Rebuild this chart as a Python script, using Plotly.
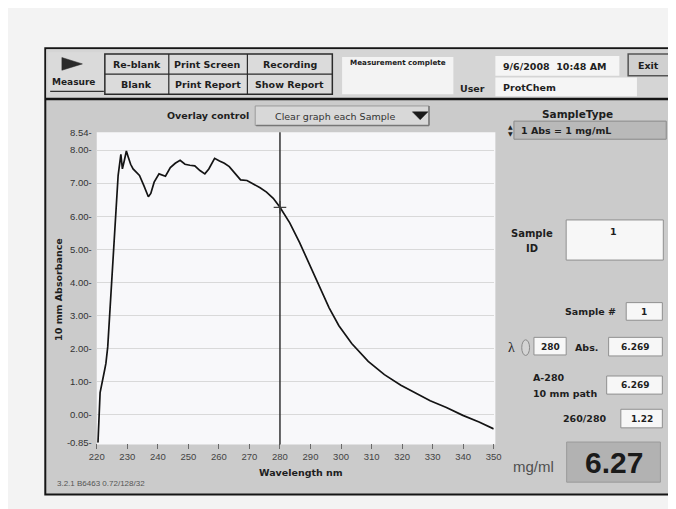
import plotly.graph_objects as go

# ---------------- data ----------------
wavelength_nm = [220.4, 221.1, 222.6, 223.0, 223.6, 224.9, 226.2, 227.0, 227.9, 228.4,
                 229.0, 229.7, 230.2, 231.1, 231.9, 232.9, 234.0, 235.4, 236.9, 237.7,
                 238.8, 240.4, 241.5, 242.5, 244.1, 245.7, 247.3, 248.9, 250.5, 252.1,
                 253.8, 255.4, 256.7, 258.6, 260.2, 261.8, 263.4, 265.5, 267.1, 269.2,
                 271.4, 273.5, 275.6, 277.8, 280.0, 283.2, 286.4, 289.6, 292.9, 296.1,
                 299.3, 303.5, 308.9, 314.2, 319.6, 323.8, 329.2, 334.5, 339.9, 345.2, 350.0]
absorbance = [-0.85, 0.67, 1.36, 1.55, 2.05, 4.02, 6.19, 7.23, 7.87, 7.43,
              7.67, 7.97, 7.82, 7.57, 7.43, 7.33, 7.23, 6.93, 6.59, 6.69,
              7.03, 7.28, 7.25, 7.21, 7.47, 7.60, 7.69, 7.57, 7.54, 7.52,
              7.38, 7.28, 7.43, 7.75, 7.67, 7.60, 7.50, 7.28, 7.10, 7.08,
              6.98, 6.86, 6.73, 6.54, 6.269, 5.80, 5.21, 4.57, 3.88, 3.23,
              2.69, 2.15, 1.61, 1.21, 0.89, 0.69, 0.42, 0.22, -0.02, -0.22, -0.43]
x_ticks = [220, 230, 240, 250, 260, 270, 280, 290, 300, 310, 320, 330, 340, 350]
y_ticks = [-0.85, 0, 1, 2, 3, 4, 5, 6, 7, 8, 8.54]
y_tick_labels = ["-0.85", "0.00", "1.00", "2.00", "3.00", "4.00", "5.00",
                 "6.00", "7.00", "8.00", "8.54"]
cursor_nm = 280
cursor_abs = 6.269
sample_id = "1"
sample_no = "1"
abs_value = "6.269"
a280_value = "6.269"
ratio_260_280 = "1.22"
conc_mg_ml = "6.27"
date_text = "9/6/2008  10:48 AM"
user_text = "ProtChem"
version_text = "3.2.1 B6463 0.72/128/32"

# ---------------- helpers (pixel -> paper) ----------------
W, H = 676, 509
def X(px): return px / W
def Y(py): return 1 - py / H

shapes = []
annotations = []

def rect(x0, y0, x1, y1, fill, lc=None, lw=0, layer="below"):
    shapes.append(dict(type="rect", xref="paper", yref="paper",
                       x0=X(x0), x1=X(x1), y0=Y(y1), y1=Y(y0),
                       fillcolor=fill, line=dict(color=lc if lc else fill, width=lw),
                       layer=layer))

def line(x0, y0, x1, y1, color="#1a1a1a", width=1, layer="below"):
    shapes.append(dict(type="line", xref="paper", yref="paper",
                       x0=X(x0), x1=X(x1), y0=Y(y0), y1=Y(y1),
                       line=dict(color=color, width=width), layer=layer))

def tri(pts, fill="#222"):
    path = "M " + " L ".join(f"{X(a)},{Y(b)}" for a, b in pts) + " Z"
    shapes.append(dict(type="path", xref="paper", yref="paper", path=path,
                       fillcolor=fill, line=dict(color=fill, width=0.5), layer="below"))

def txt(x, y, s, size=10, color="#1e1e1e", bold=True, family="DejaVu Sans",
        xanchor="center", angle=0):
    annotations.append(dict(x=X(x), y=Y(y), xref="paper", yref="paper",
                            text=f"<b>{s}</b>" if bold else s, showarrow=False,
                            font=dict(size=size, color=color, family=family),
                            xanchor=xanchor, yanchor="middle", textangle=angle))

# ---------------- UI frame ----------------
rect(30, 35, 672, 491, "#cbcbcb", "#151515", 2)          # main window
rect(31, 36, 671, 87, "#d5d5d5")                          # toolbar
line(30, 87, 672, 87, "#151515", 2.5)
# Measure button
rect(33, 39, 90, 80, "#dadada")
line(35, 79, 90, 79, "#333", 1.2)
tri([(47, 44.5), (68, 51), (47, 57.5)], "#2a2a2a")
txt(59, 69, "Measure", 9)
# button grid
rect(91, 41, 324, 82, "#dbdbdb", "#2a2a2a", 1.5)
line(156.5, 41, 156.5, 82, "#2a2a2a", 1.2)
line(237, 41, 237, 82, "#2a2a2a", 1.2)
line(91, 61.5, 324, 61.5, "#2a2a2a", 1.2)
txt(123.5, 52, "Re-blank", 9.5)
txt(196.5, 52, "Print Screen", 9.5)
txt(280.5, 52, "Recording", 9.5)
txt(123.5, 72, "Blank", 9.5)
txt(196.5, 72, "Print Report", 9.5)
txt(280.5, 72, "Show Report", 9.5)
# message box
rect(334, 44, 448, 82, "#f3f3f3")
txt(391, 50, "Measurement complete", 7.2)
# user / date
txt(468, 76, "User", 9.5)
rect(491, 43, 618, 63, "#f5f5f5")
txt(497, 53.5, date_text, 9.5, xanchor="left")
rect(491, 65, 636, 84, "#f5f5f5")
txt(497, 75, user_text, 9.5, xanchor="left")
rect(627, 41, 669, 63, "#d0d0d0", "#555", 1.5)
txt(648, 52.5, "Exit", 9.5)

# overlay control
txt(197, 104, "Overlay control", 9.5)
rect(245, 94, 423, 114, "#d8d8d8", "#9a9a9a", 1)
line(246, 114, 423, 114, "#777", 1.5)
line(423, 94, 423, 114, "#777", 1.5)
txt(327, 105, "Clear graph each Sample", 9.5, color="#333", bold=False)
tri([(406, 100), (422, 100), (414, 108)], "#1a1a1a")

# plot area background (white)
rect(82.7, 120.8, 491, 440, "#f8f8fa")

# axis titles / misc text
txt(44, 281, "10 mm Absorbance", 9.5, angle=-90)
txt(247, 469, "Wavelength nm", 9.5, xanchor="left")
txt(40, 480, version_text, 8, color="#555", bold=False, family="Liberation Sans",
    xanchor="left")

# right panel
txt(575, 102.5, "SampleType", 10.5)
rect(510, 109.5, 666, 128, "#b9b9b9", "#8a8a8a", 1)
txt(506.5, 115, "▲", 6, color="#222", bold=False)
txt(506.5, 122, "▼", 6, color="#222", bold=False)
txt(515, 119, "1 Abs = 1 mg/mL", 9.5, xanchor="left")

txt(528.5, 224.5, "Sample", 10)
txt(528.5, 240, "ID", 10)
rect(563.5, 210.5, 663, 251.5, "#f7f7f7", "#8f8f8f", 1)
txt(611.5, 222, sample_id, 9.5)

txt(588, 304.5, "Sample #", 9.5)
rect(625, 295, 662, 313, "#f7f7f7", "#8f8f8f", 1)
txt(643.5, 305, sample_no, 9)

txt(507, 341, "λ", 14, color="#222", bold=False, family="Liberation Serif")
shapes.append(dict(type="circle", xref="paper", yref="paper",
                   x0=X(518), x1=X(526), y0=Y(349), y1=Y(333),
                   line=dict(color="#8a8a8a", width=1), fillcolor="#d4d4d4", layer="below"))
rect(530.5, 330.5, 563.5, 348.5, "#f7f7f7", "#8f8f8f", 1)
txt(547, 340.5, str(cursor_nm), 9)
txt(584, 341, "Abs.", 9.5)
rect(607, 330.5, 662, 349.5, "#f7f7f7", "#8f8f8f", 1)
txt(634.5, 340.5, abs_value, 9)

txt(527, 372, "A-280", 9.5, xanchor="left")
txt(527, 388, "10 mm path", 9.5, xanchor="left")
rect(605, 370, 662, 388.5, "#f7f7f7", "#8f8f8f", 1)
txt(633.5, 379.5, a280_value, 9)

txt(583, 413.5, "260/280", 9.5)
rect(619.5, 404, 662, 423, "#f7f7f7", "#8f8f8f", 1)
txt(641, 413.5, ratio_260_280, 9)

txt(530, 462, "mg/ml", 15, color="#505050", bold=False, family="Liberation Sans")
rect(564, 437.5, 660, 478.5, "#b2b2b2", "#9a9a9a", 1)
txt(612, 458, conc_mg_ml, 30, color="#1a1a1a", family="Liberation Sans")

# cursor line (above traces)
shapes.append(dict(type="line", xref="x", yref="paper", x0=cursor_nm, x1=cursor_nm,
                   y0=Y(440), y1=Y(120.8), line=dict(color="#333333", width=1.5),
                   layer="above"))

# ---------------- figure ----------------
fig = go.Figure()
fig.add_trace(go.Scatter(x=wavelength_nm, y=absorbance, mode="lines",
                         line=dict(color="#141414", width=1.7), showlegend=False,
                         hoverinfo="skip"))
fig.add_trace(go.Scatter(x=[cursor_nm], y=[cursor_abs], mode="markers",
                         marker=dict(symbol="cross-thin", size=9,
                                     line=dict(color="#444", width=1.2)),
                         showlegend=False, hoverinfo="skip"))

fig.update_layout(
    width=W, height=H,
    margin=dict(l=0, r=0, t=0, b=0, pad=0),
    paper_bgcolor="#f3f3f3",
    plot_bgcolor="rgba(0,0,0,0)",
    shapes=shapes,
    annotations=annotations,
    xaxis=dict(domain=[X(82.7), X(489.3)], range=[220, 350],
               tickvals=x_ticks, ticks="outside", ticklen=5, tickwidth=1,
               tickcolor="#6a6a6a", showgrid=False, zeroline=False, showline=False,
               tickfont=dict(size=9.5, color="#444", family="Liberation Sans")),
    yaxis=dict(domain=[Y(438.3), Y(120.8)], range=[-0.85, 8.54],
               tickvals=y_ticks, ticktext=[t + "-" for t in y_tick_labels],
               ticks="", showgrid=True, gridcolor="#d9d9d9", gridwidth=1,
               zeroline=False, showline=False, ticklabelstandoff=4,
               tickfont=dict(size=9.5, color="#333", family="Liberation Sans")),
)

fig.write_html("out.html")
